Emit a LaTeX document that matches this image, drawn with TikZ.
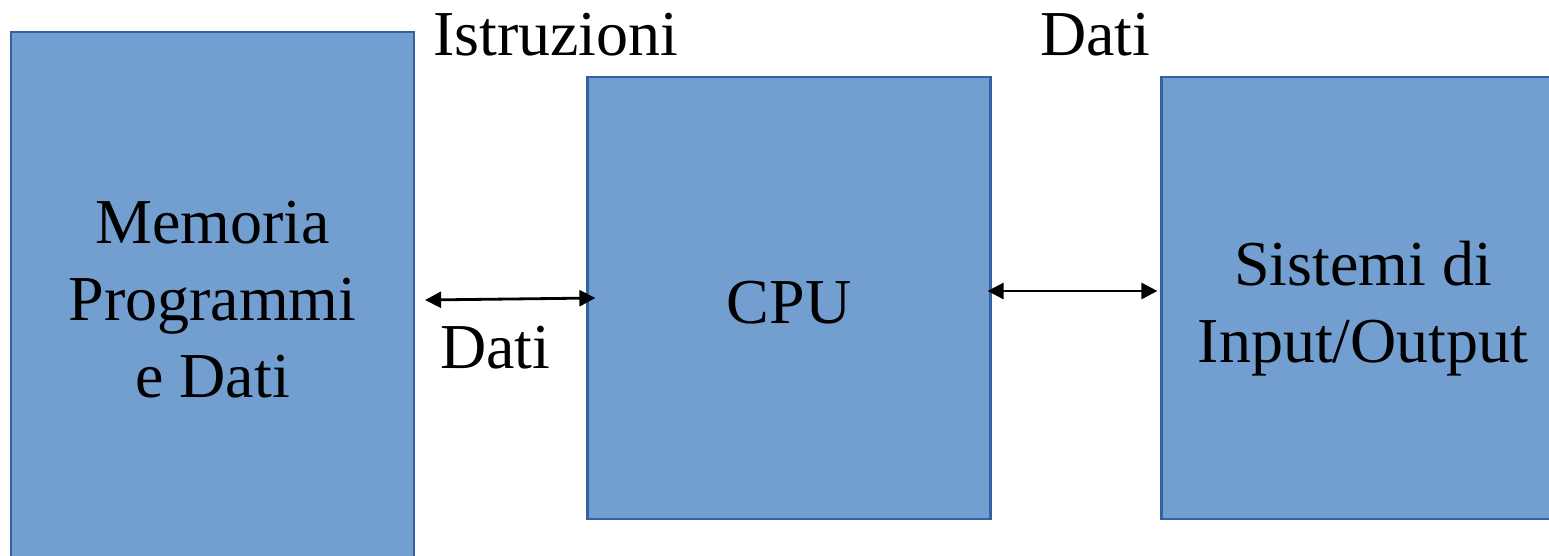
\documentclass[tikz,border=0pt]{standalone}
\usepackage{fontspec}
\setmainfont{Liberation Serif}
\usetikzlibrary{arrows.meta}
\definecolor{boxfill}{RGB}{114,159,207}
\definecolor{boxline}{RGB}{52,96,166}
\tikzset{
  unit/.style={draw=boxline, line width=2.2pt, fill=boxfill, minimum width=403pt,
    align=center, inner sep=0pt, font=\fontsize{64}{77}\selectfont},
  caption/.style={align=center, inner sep=0pt, font=\fontsize{64}{77}\selectfont},
  label/.style={anchor=base west, inner sep=0pt, font=\fontsize{64}{77}\selectfont},
  link/.style={line width=2.8pt, {Triangle[length=16pt,width=16pt]}-{Triangle[length=16pt,width=16pt]}}
}
\begin{document}
\begin{tikzpicture}[x=1pt,y=1pt]
\useasboundingbox (0,0) rectangle (1549,-555);
\clip (0,0) rectangle (1549,-555);
% functional blocks
\node[unit, minimum height=536pt] (mem) at (212.5,-300) {Memoria\\Programmi\\e Dati};
\node[unit, minimum height=442pt] (cpu) at (789,-298) {};
\node[unit, minimum height=442pt] (io) at (1363,-298) {};
\node[caption] (cputext) at ([yshift=-5pt]cpu.center) {CPU};
\node[caption] (iotext) at ([yshift=-11pt]io.center) {Sistemi di\\Input/Output};
% buses
\draw[link] ([xshift=10pt]mem.east) -- ([xshift=9pt]cpu.west);
\draw[link] ([shift={(-4pt,7pt)}]cpu.east) -- ([shift={(-3pt,7pt)}]io.west);
% bus labels
\node[label] (instr) at (433,-55) {Istruzioni};
\node[label] (datimem) at (440,-368) {Dati};
\node[label] (datiio) at (1040,-55) {Dati};
\end{tikzpicture}
\end{document}
